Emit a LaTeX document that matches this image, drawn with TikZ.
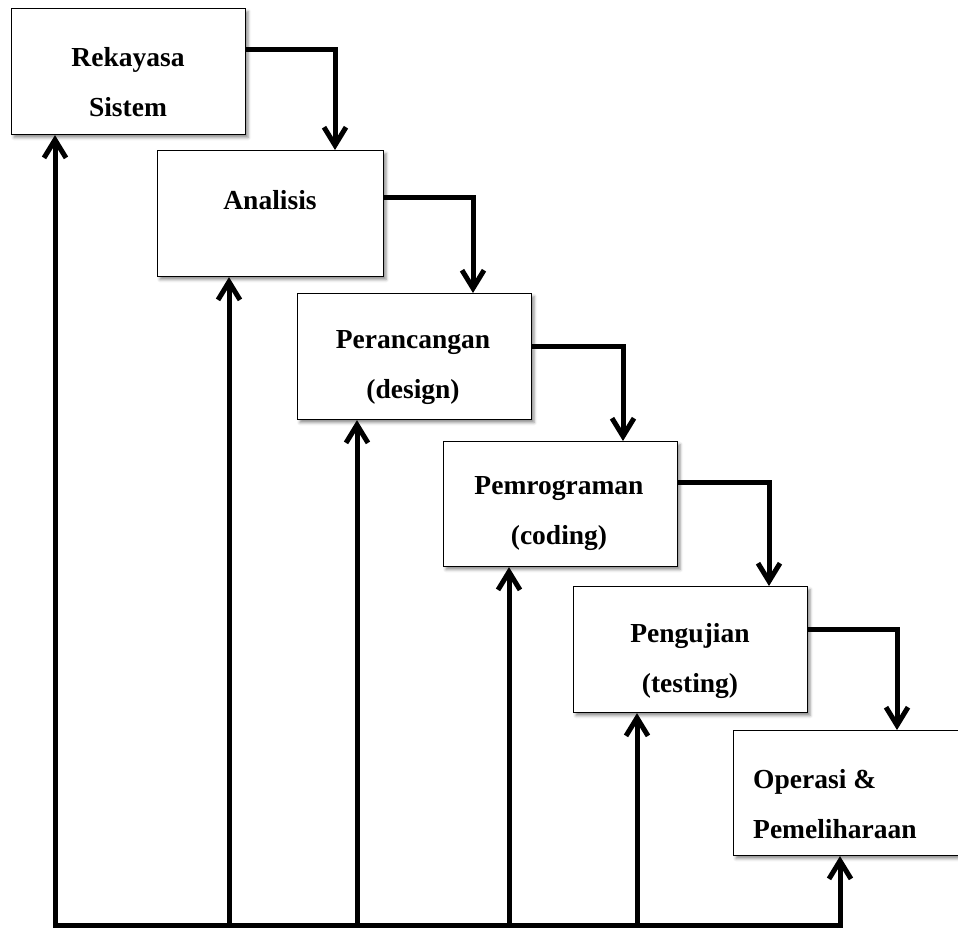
\documentclass[tikz,border=0pt]{standalone}
\usepackage{fontspec}
\setmainfont{Liberation Serif}
\usetikzlibrary{arrows.meta,shadows.blur}
\begin{document}
\begin{tikzpicture}[x=1pt,y=-1pt,
  box/.style={draw=black, line width=1.1pt, fill=white, anchor=north west, inner sep=0pt,
    minimum width=234pt, minimum height=126pt,
    blur shadow={shadow xshift=2.5pt, shadow yshift=-3pt, shadow blur radius=3pt, shadow opacity=45}},
  lbl/.style={font=\fontsize{27.5}{50}\selectfont\bfseries, align=center, inner sep=0pt},
  conn/.style={line width=5pt, line join=miter, -{Straight Barb[length=18pt,width=22pt,line width=5pt]}},
  fb/.style={line width=5pt, line join=miter}
]
\useasboundingbox (0,0) rectangle (958,928);
\begin{scope}
\clip (0,0) rectangle (958,928);
\node[box] (b1) at (11,8) {};
\node[box, minimum width=226pt] (b2) at (157,150) {};
\node[box] (b3) at (297,293) {};
\node[box, minimum height=125pt] (b4) at (443,441) {};
\node[box] (b5) at (573,586) {};
\node[box, minimum width=232pt, minimum height=125pt] (b6) at (733,730) {};

\node[lbl] (t1) at (128,82) {Rekayasa\\Sistem};
\node[lbl] (t2) at (270,200) {Analisis};
\node[lbl] (t3) at (413,368) {Perancangan\\(design)};
\node[lbl] (t4) at (559,514) {Pemrograman\\(coding)};
\node[lbl] (t5) at (690,661) {Pengujian\\(testing)};
\node[lbl, align=left, anchor=west] (t6) at (753,804) {Operasi \&\\Pemeliharaan};

\draw[conn] ([yshift=-42pt]b1.north east) -| ([xshift=178pt]b2.north west);
\draw[conn] ([yshift=-48pt]b2.north east) -| ([xshift=176pt]b3.north west);
\draw[conn] ([yshift=-53pt]b3.north east) -| ([xshift=180pt]b4.north west);
\draw[conn] ([yshift=-41pt]b4.north east) -| ([xshift=196pt]b5.north west);
\draw[conn] ([yshift=-43pt]b5.north east) -| ([xshift=164pt]b6.north west);

\coordinate (f1) at (55,925);
\coordinate (f2) at (229,925);
\coordinate (f3) at (357,925);
\coordinate (f4) at (509,925);
\coordinate (f5) at (637,925);
\coordinate (f6) at (840,925);
\draw[conn] (f6) -- (f1) -- (f1 |- b1.south);
\draw[conn] (f1) -- (f6) -- (f6 |- b6.south);
\draw[conn] (f2) -- (f2 |- b2.south);
\draw[conn] (f3) -- (f3 |- b3.south);
\draw[conn] (f4) -- (f4 |- b4.south);
\draw[conn] (f5) -- (f5 |- b5.south);
\end{scope}
\end{tikzpicture}
\end{document}
